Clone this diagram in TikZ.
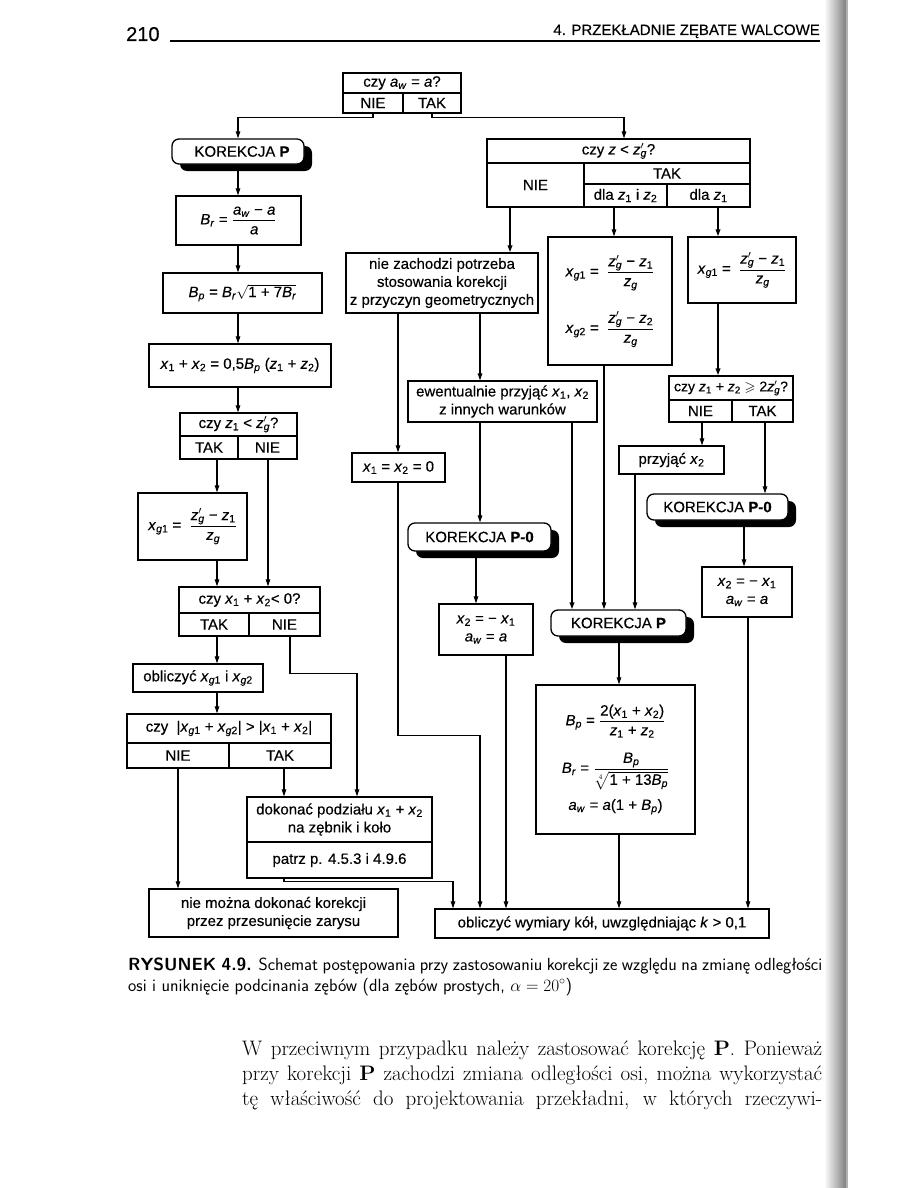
\documentclass[tikz,border=0pt]{standalone}
\usepackage{amsmath,amssymb}
\usepackage{fontspec}
\usetikzlibrary{arrows.meta,shadows}
\newfontfamily\hv[FakeBold=0.35]{Liberation Sans}
\newcommand\vi[1]{\textit{#1}}
\newcommand\sub[1]{\textsubscript{#1}}
\newcommand\zg{\vi{z}\rlap{$^{\prime}$}\sub{\vi{g}}}
\newcommand\fr[2]{\dfrac{\mbox{#1}}{\mbox{#2}}}
\newcommand\bx[7][]{\node[cell,#1,minimum width={(#5)-(#3)},minimum height={(#6)-(#4)}] (#2) at ({((#3)+(#5))/2},{((#4)+(#6))/2}) {#7};}
\begin{document}
\begin{tikzpicture}[x=1pt,y=-1pt,
 cell/.style={draw,line width=1.3pt,inner sep=0pt,align=center,font=\hv\fontsize{15}{18}\selectfont},
 kor/.style={rounded corners=7pt,fill=white,drop shadow={shadow xshift=8pt,shadow yshift=-7pt,fill=black,opacity=1}},
 arr/.style={line width=1.1pt,-{Triangle[length=7pt,width=4.5pt]}},
 tarr/.style={arr,line width=1.8pt},
 body/.style={anchor=base west,inner sep=0,font=\fontsize{21}{25}\selectfont\addfontfeature{FakeBold=0.25}},
 capt/.style={anchor=base west,inner sep=0,font=\sffamily\fontsize{17.6}{21}\selectfont\addfontfeature{FakeBold=0.3}}]
\useasboundingbox (0,0) rectangle (918,1188);
% binding shadow
\shade[left color=white,right color=black!50] (824,0) rectangle (846,1188);
\fill[black!30] (846,0) rectangle (848,1188);
% header
\node[font=\hv\fontsize{20}{22}\selectfont,anchor=base west,inner sep=0] (pg) at (126,41) {210};
\draw[line width=1.3pt] (170,41) -- (820,41);
\node[font=\hv\fontsize{15}{16}\selectfont,anchor=base east,inner sep=0] (hd) at (820,35) {4. PRZEKŁADNIE ZĘBATE WALCOWE};
% x positions of vertical connectors
\foreach \v in {217,238,268,284,290,357,398,453,476,480,506,510,572,604,614,619,624,635,702,718,744,748,765}
  {\coordinate (v\v) at (\v,0);}
% left column
\bx{q1}{343}{73}{461}{93}{czy \vi{a}\sub{\vi{w}} = \vi{a}?}
\bx{q1n}{343}{93}{403}{113}{NIE}
\bx{q1t}{403}{93}{461}{113}{TAK}
\bx[kor]{korP1}{172}{139}{304}{164}{\hspace{8pt}KOREKCJA \textbf{P}}
\bx{br}{176}{196}{301}{245}{$\mbox{\vi{B}\sub{\vi{r}} = }\fr{\vi{a}\sub{\vi{w}} − \vi{a}}{\vi{a}}$}
\bx{bp}{163}{273}{322}{313}{\vi{B}\sub{\vi{p}} = \vi{B}\sub{\vi{r}}$\sqrt{\mbox{1 + 7\vi{B}\sub{\vi{r}}}}$}
\bx{sum}{149}{344}{331}{387}{\vi{x}\sub{1} + \vi{x}\sub{2} = 0,5\vi{B}\sub{\vi{p}} (\vi{z}\sub{1} + \vi{z}\sub{2})}
\bx{q2}{180}{413}{297}{436}{czy \vi{z}\sub{1} < \zg?}
\bx{q2t}{180}{436}{238}{459}{TAK}
\bx{q2n}{238}{436}{297}{459}{NIE}
\bx{xg}{138}{493}{247}{560}{$\mbox{\vi{x}\sub{\vi{g}1} = }\ \fr{\zg{} − \vi{z}\sub{1}}{\vi{z}\sub{\vi{g}}}$}
\bx{q3}{179}{587}{320}{613}{czy \vi{x}\sub{1} + \vi{x}\sub{2}< 0?}
\bx{q3t}{179}{613}{249}{636}{TAK}
\bx{q3n}{249}{613}{320}{636}{NIE}
\bx{obl}{133}{664}{263}{692}{obliczyć \vi{x}\sub{\vi{g}1} i \vi{x}\sub{\vi{g}2}}
\bx{q4}{127}{714}{331}{743}{czy\ \ |\vi{x}\sub{\vi{g}1} + \vi{x}\sub{\vi{g}2}|\ > |\vi{x}\sub{1} + \vi{x}\sub{2}|}
\bx{q4n}{127}{743}{229}{768}{NIE}
\bx{q4t}{229}{743}{331}{768}{TAK}
\bx{dok}{247}{797}{432}{842}{dokonać podziału \vi{x}\sub{1} + \vi{x}\sub{2}\\na zębnik i koło}
\bx{dokp}{247}{842}{432}{878}{patrz p. 4.5.3 i 4.9.6}
\bx{nm}{149}{889}{398}{937}{nie można dokonać korekcji\\przez przesunięcie zarysu}
% right part
\bx{qz}{487}{139}{750}{163}{czy \vi{z} < \zg?}
\bx{qzn}{487}{163}{584}{207}{NIE}
\bx{qzt}{584}{163}{750}{184}{TAK}
\bx{qza}{584}{184}{667}{207}{dla \vi{z}\sub{1} i \vi{z}\sub{2}}
\bx{qzb}{667}{184}{750}{207}{dla \vi{z}\sub{1}}
\bx{nz}{346}{253}{538}{313}{nie zachodzi potrzeba\\stosowania korekcji\\z przyczyn geometrycznych}
\bx{xgm}{548}{237}{672}{365}{$\mbox{\vi{x}\sub{\vi{g}1} = }\ \fr{\zg{} − \vi{z}\sub{1}}{\vi{z}\sub{\vi{g}}}$\\[20pt]$\mbox{\vi{x}\sub{\vi{g}2} = }\ \fr{\zg{} − \vi{z}\sub{2}}{\vi{z}\sub{\vi{g}}}$}
\bx{xgr}{688}{237}{796}{303}{$\mbox{\vi{x}\sub{\vi{g}1} = }\ \fr{\zg{} − \vi{z}\sub{1}}{\vi{z}\sub{\vi{g}}}$}
\bx{q5}{669}{376}{793}{400}{\fontsize{14}{16}\selectfont czy \vi{z}\sub{1} + \vi{z}\sub{2} $\geqslant$ 2\zg?}
\bx{q5n}{669}{400}{732}{422}{NIE}
\bx{q5t}{732}{400}{793}{422}{TAK}
\bx{ew}{408}{381}{597}{422}{ewentualnie przyjąć \vi{x}\sub{1}, \vi{x}\sub{2}\\z innych warunków}
\bx{x0}{352}{453}{445}{482}{\vi{x}\sub{1} = \vi{x}\sub{2} = 0}
\bx{prz}{619}{446}{724}{474}{przyjąć \vi{x}\sub{2}}
\bx[kor]{korPr}{647}{494}{788}{520}{KOREKCJA \textbf{P-0}}
\bx{x2r}{702}{567}{792}{617}{\vi{x}\sub{2} = − \vi{x}\sub{1}\\\vi{a}\sub{\vi{w}} = \vi{a}}
\bx[kor]{korPm0}{408}{523}{551}{551}{KOREKCJA \textbf{P-0}}
\bx{x2m}{439}{604}{533}{655}{\vi{x}\sub{2} = − \vi{x}\sub{1}\\\vi{a}\sub{\vi{w}} = \vi{a}}
\bx[kor]{korPm}{551}{610}{686}{636}{KOREKCJA \textbf{P}}
\bx{bpm}{536}{685}{695}{834}{$\mbox{\vi{B}\sub{\vi{p}} = }\fr{2(\vi{x}\sub{1} + \vi{x}\sub{2})}{\vi{z}\sub{1} + \vi{z}\sub{2}}$\\[14pt]$\mbox{\vi{B}\sub{\vi{r}} = }\dfrac{\mbox{\vi{B}\sub{\vi{p}}}}{\sqrt[4]{\mbox{1 + 13\vi{B}\sub{\vi{p}}}}}$\\[8pt]\vi{a}\sub{\vi{w}} = \vi{a}(1 + \vi{B}\sub{\vi{p}})}
\bx{obw}{435}{909}{769}{938}{obliczyć wymiary kół, uwzględniając \vi{k} > 0,1}
% connectors, left
\draw[arr] (q1n.south) -- ++(0,4) -| (korP1.north);
\draw[arr] (q1t.south) -- ++(0,4) -| (qz.north -| v624);
\draw[arr] (korP1.south -| v238) -- (br.north -| v238);
\draw[arr] (br.south -| v238) -- (bp.north -| v238);
\draw[arr] (bp.south -| v238) -- (sum.north -| v238);
\draw[arr] (sum.south -| v238) -- (q2.north -| v238);
\draw[arr] (q2t.south -| v217) -- (xg.north -| v217);
\draw[arr] (q2n.south -| v268) -- (q3.north -| v268);
\draw[arr] (xg.south -| v217) -- (q3.north -| v217);
\draw[arr] (q3t.south -| v217) -- (obl.north -| v217);
\draw[arr] (q3n.south -| v290) -- ++(0,37) -| (dok.north -| v357);
\draw[arr] (obl.south -| v217) -- (q4.north -| v217);
\draw[arr] (q4n.south) -- (nm.north -| q4n.south);
\draw[arr] (q4t.south -| v284) -- (dok.north -| v284);
\draw[arr] (dokp.south -| v284) -- ++(0,3) -| (obw.north -| v453);
% connectors, right
\draw[tarr] (qzn.south -| v510) -- (nz.north -| v510);
\draw[arr] (qza.south -| v614) -- (xgm.north -| v614);
\draw[tarr] (qzb.south -| v718) -- (xgr.north -| v718);
\draw[tarr] (xgr.south -| v718) -- (q5.north -| v718);
\draw[arr] (q5n.south -| v702) -- (prz.north -| v702);
\draw[arr] (q5t.south -| v765) -- (korPr.north -| v765);
\draw[arr] (korPr.south -| v744) -- (x2r.north -| v744);
\draw[arr] (x2r.south -| v748) -- (obw.north -| v748);
\draw[arr] (nz.south -| v398) -- (x0.north -| v398);
\draw[arr] (nz.south -| v480) -- (ew.north -| v480);
\draw[arr] (ew.south -| v480) -- (korPm0.north -| v480);
\draw[tarr] (ew.south -| v572) -- (korPm.north -| v572);
\draw[arr,line width=1.4pt] (xgm.south -| v604) -- (korPm.north -| v604);
\draw[arr] (prz.south -| v635) -- (korPm.north -| v635);
\draw[arr] (x0.south -| v398) -- ++(0,253) -| (obw.north -| v480);
\draw[arr] (korPm0.south -| v476) -- (x2m.north -| v476);
\draw[arr] (x2m.south -| v506) -- (obw.north -| v506);
\draw[arr] (korPm.south -| v619) -- (bpm.north -| v619);
\draw[arr] (bpm.south -| v619) -- (obw.north -| v619);
% caption
\node[capt] (cap1) at (128,970) {\makebox[694pt][s]{\textbf{RYSUNEK 4.9.} Schemat postępowania przy zastosowaniu korekcji ze względu na zmianę odległości}};
\node[capt] (cap2) at (128,991) {osi i uniknięcie podcinania zębów (dla zębów prostych, $\alpha = 20^\circ$)};
% body text
\node[body] (t1) at (242,1055) {\makebox[580pt][s]{W przeciwnym przypadku należy zastosować korekcję \textbf{P}. Ponieważ}};
\node[body] (t2) at (242,1080) {\makebox[580pt][s]{przy korekcji \textbf{P} zachodzi zmiana odległości osi, można wykorzystać}};
\node[body] (t3) at (242,1105) {\makebox[580pt][s]{tę właściwość do projektowania przekładni, w których rzeczywi-}};
\end{tikzpicture}
\end{document}
